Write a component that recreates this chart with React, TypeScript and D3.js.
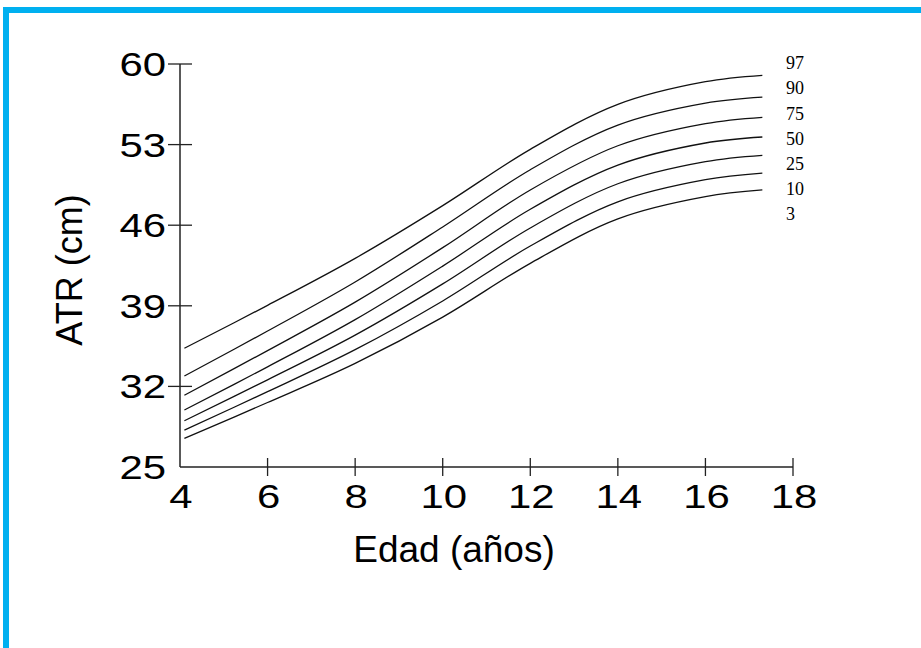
import React from "react";
import * as d3 from "d3";

const ages = [4.1, 6, 8, 10, 12, 14, 16, 17.3];
const p97 = [35.31, 39.04, 43.12, 47.7, 52.59, 56.5, 58.47, 59.02];
const p90 = [32.9, 36.81, 41.07, 45.85, 50.82, 54.7, 56.61, 57.13];
const p75 = [31.23, 35.11, 39.32, 44.05, 49.06, 52.9, 54.82, 55.37];
const p50 = [29.95, 33.7, 37.8, 42.45, 47.38, 51.22, 53.14, 53.66];
const p25 = [29.02, 32.57, 36.45, 40.9, 45.76, 49.6, 51.52, 52.07];
const p10 = [28.21, 31.54, 35.19, 39.42, 44.19, 48.03, 49.95, 50.53];
const p3 = [27.49, 30.6, 34.0, 38.02, 42.69, 46.55, 48.48, 49.06];

const seriesNames = ["97", "90", "75", "50", "25", "10", "3"];
const seriesValues = [p97, p90, p75, p50, p25, p10, p3];

const xTicks = [4, 6, 8, 10, 12, 14, 16, 18];
const yTicks = [25, 32, 39, 46, 53, 60];

export default function App() {
  const x = d3.scaleLinear().domain([4, 18]).range([180, 793]);
  const y = d3.scaleLinear().domain([25, 60]).range([467, 64]);
  const line = d3
    .line<[number, number]>()
    .x((d) => x(d[0]))
    .y((d) => y(d[1]))
    .curve(d3.curveCatmullRom.alpha(0.5));

  const sans = "'Liberation Sans', Arial, sans-serif";
  const axisColor = "#222";

  return (
    <svg
      width={921}
      height={648}
      style={{ position: "absolute", left: 0, top: 0, background: "#fff" }}
    >
      <rect x={0} y={0} width={921} height={648} fill="#fff" />
      <rect
        x={6}
        y={10}
        width={1000}
        height={1000}
        fill="none"
        stroke="#00B0F0"
        strokeWidth={6}
      />
      {/* axes */}
      <line x1={x(4)} x2={x(4)} y1={y(60)} y2={y(25)} stroke={axisColor} strokeWidth={1.5} />
      <line x1={x(4)} x2={x(18)} y1={y(25)} y2={y(25)} stroke={axisColor} strokeWidth={1.5} />
      {yTicks.map((t) => (
        <g key={"y" + t}>
          {t !== 25 && (
            <line x1={x(4) - 12} x2={x(4) + 12} y1={y(t)} y2={y(t)} stroke={axisColor} strokeWidth={1.3} />
          )}
          <text
            transform={`translate(${x(4) - 14},${y(t) + 12}) scale(1.27,1)`}
            textAnchor="end"
            fontFamily={sans}
            fontSize={33}
            fill="#000"
          >
            {t}
          </text>
        </g>
      ))}
      {xTicks.map((t) => (
        <g key={"x" + t}>
          {t !== 4 && (
            <line x1={x(t)} x2={x(t)} y1={y(25) - 9} y2={y(25) + 9} stroke={axisColor} strokeWidth={1.3} />
          )}
          <text
            transform={`translate(${x(t) + 1},${508}) scale(1.27,1)`}
            textAnchor="middle"
            fontFamily={sans}
            fontSize={33}
            fill="#000"
          >
            {t}
          </text>
        </g>
      ))}
      <text x={454} y={562} textAnchor="middle" fontFamily={sans} fontSize={37} fill="#000">
        Edad (años)
      </text>
      <text
        transform={`translate(82,${270}) rotate(-90)`}
        textAnchor="middle"
        fontFamily={sans}
        fontSize={36}
        fill="#000"
      >
        ATR (cm)
      </text>
      {seriesValues.map((vals, i) => (
        <path
          key={seriesNames[i]}
          d={line(ages.map((a, j) => [a, vals[j]] as [number, number])) || ""}
          fill="none"
          stroke="#111"
          strokeWidth={1.3}
        />
      ))}
      {seriesNames.map((n, i) => (
        <text
          key={"l" + n}
          x={786}
          y={69.3 + i * 25.1}
          fontFamily="'Liberation Serif', 'Times New Roman', serif"
          fontSize={18}
          fill="#000"
        >
          {n}
        </text>
      ))}
    </svg>
  );
}
